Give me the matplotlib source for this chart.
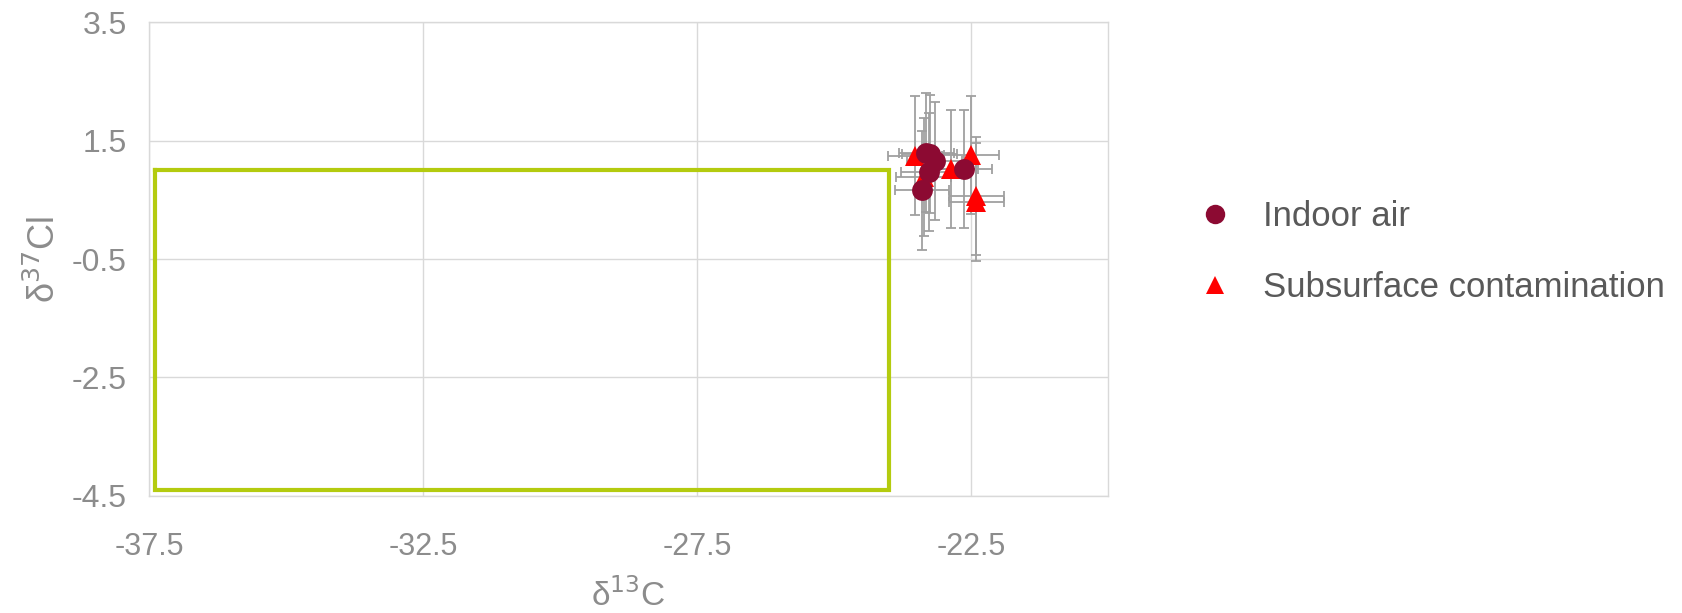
import matplotlib
matplotlib.use("Agg")
import matplotlib.pyplot as plt
from matplotlib import font_manager
from matplotlib.lines import Line2D

# ---- data ----
indoor_x = [-23.25, -23.31, -23.16, -23.27, -23.39, -22.62]
indoor_y = [1.28, 1.30, 1.16, 0.97, 0.66, 1.02]
subsurf_x = [-23.52, -22.86, -22.49, -22.40, -22.40, -23.36]
subsurf_y = [1.25, 1.02, 1.26, 0.57, 0.47, 0.89]
x_err = 0.5
y_err = 1.0
box_x = [-37.4, -24.0]
box_y = [-4.4, 1.0]
x_ticks = [-37.5, -32.5, -27.5, -22.5]
y_ticks = [-4.5, -2.5, -0.5, 1.5, 3.5]
x_lim = [-37.5, -20.0]
y_lim = [-4.5, 3.5]
series_labels = ["Indoor air", "Subsurface contamination"]

names = {f.name for f in font_manager.fontManager.ttflist}
narrow = "Liberation Sans Narrow" if "Liberation Sans Narrow" in names else "Liberation Sans"
plt.rcParams["font.family"] = ["Liberation Sans", "DejaVu Sans"]

fig = plt.figure(figsize=(16.82, 6.13), dpi=100)
ax = fig.add_axes([0.0886, 0.1915, 0.570, 0.7718])

grid_c = "#D9D9D9"
err_c = "#A0A0A0"
circle_c = "#8C0A32"
tri_c = "#FF0000"
green = "#B4CB0F"
tick_c = "#8C8C8C"

# box
bx = [box_x[0], box_x[1], box_x[1], box_x[0], box_x[0]]
by = [box_y[1], box_y[1], box_y[0], box_y[0], box_y[1]]
ax.plot(bx, by, color=green, lw=3.0, zorder=2, solid_joinstyle="miter")

# subsurface series
ax.errorbar(subsurf_x, subsurf_y, xerr=x_err, yerr=y_err, fmt="none",
            ecolor=err_c, elinewidth=1.3, capsize=3.6, capthick=1.3, zorder=3)
ax.plot(subsurf_x, subsurf_y, linestyle="none", marker="^", markersize=14,
        color=tri_c, markeredgewidth=0, zorder=4)
# indoor air series
ax.errorbar(indoor_x, indoor_y, xerr=x_err, yerr=y_err, fmt="none",
            ecolor=err_c, elinewidth=1.3, capsize=3.6, capthick=1.3, zorder=3)
ax.plot(indoor_x, indoor_y, linestyle="none", marker="o", markersize=15,
        color=circle_c, markeredgewidth=0, zorder=5)

ax.set_xlim(x_lim)
ax.set_ylim(y_lim)
ax.set_xticks(x_ticks)
ax.set_yticks(y_ticks)
ax.set_xticklabels([f"{v:g}" for v in x_ticks], fontfamily=narrow, fontsize=22)
ax.set_yticklabels([f"{v:g}" for v in y_ticks], fontsize=23)
ax.tick_params(axis="both", length=0, colors=tick_c)
ax.tick_params(axis="x", pad=26)
ax.tick_params(axis="y", pad=16)
ax.grid(True, color=grid_c, lw=1.0)
ax.set_axisbelow(True)
for s in ax.spines.values():
    s.set_color(grid_c)
    s.set_linewidth(1.0)

ax.set_xlabel("δ$^{13}$C", fontfamily=narrow, fontsize=24, color=tick_c, labelpad=12)
ax.set_ylabel("δ$^{37}$Cl", fontsize=26, color=tick_c, labelpad=6)

handles = [
    Line2D([], [], linestyle="none", marker="o", markersize=14, color=circle_c, markeredgewidth=0),
    Line2D([], [], linestyle="none", marker="^", markersize=13, color=tri_c, markeredgewidth=0),
]
fig.legend(handles, series_labels, loc="center left", bbox_to_anchor=(0.6934, 0.589),
           frameon=False, fontsize=25, labelcolor="#595959", labelspacing=1.1,
           handletextpad=0.89, handlelength=1.0)

fig.savefig("out.png", dpi=100)
